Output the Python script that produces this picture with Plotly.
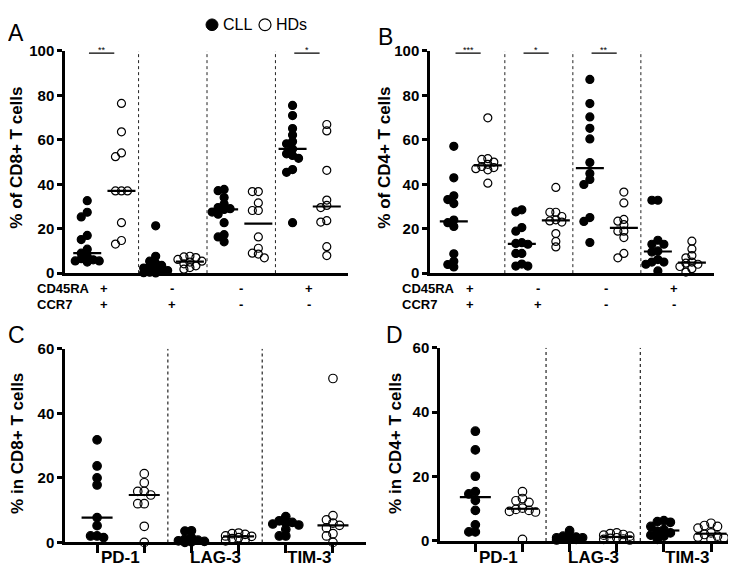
import math
import numpy as np
import plotly.graph_objects as go

# ------------------------------------------------------------------ data
subset_names = ["CD45RA+CCR7+", "CD45RA-CCR7+", "CD45RA-CCR7-", "CD45RA+CCR7-"]
cd45ra_signs = ["+", "-", "-", "+"]
ccr7_signs = ["+", "+", "-", "-"]
checkpoint_labels = ["PD-1", "LAG-3", "TIM-3"]
legend_labels = ["CLL", "HDs"]
ticks_ab = [0, 20, 40, 60, 80, 100]
ticks_cd = [0, 20, 40, 60]

# Panel A: % of CD8+ T cells
cd8_g1_cll = [32.6, 27.4, 25.3, 17.0, 15.1, 10.8, 9.0, 7.5, 6.5, 6.0, 5.5, 5.5, 5.0]
cd8_g1_hd = [76.4, 63.6, 54.1, 52.4, 37.0, 37.0, 37.0, 22.7, 14.7, 13.1]
cd8_g2_cll = [21.3, 7.6, 5.4, 4.5, 3.5, 3.0, 2.3, 1.8, 1.2, 0.8, 0.4, 0.2, 0.1]
cd8_g2_hd = [7.6, 7.3, 7.0, 6.2, 5.4, 5.0, 4.2, 3.3, 2.5, 1.8]
cd8_g3_cll = [37.7, 37.1, 34.0, 31.1, 29.5, 29.0, 28.7, 27.5, 26.5, 22.7, 17.3, 16.3, 14.1]
cd8_g3_hd = [36.7, 36.7, 31.6, 28.2, 28.2, 16.3, 11.2, 9.0, 8.6, 6.9]
cd8_g4_cll = [75.5, 70.9, 65.1, 62.2, 59.2, 58.2, 55.9, 53.7, 53.0, 51.7, 46.6, 45.4, 22.7]
cd8_g4_hd = [66.9, 64.0, 46.3, 32.9, 30.5, 29.5, 23.6, 23.0, 11.9, 7.9]
cd8_sig = ["**", "", "", "*"]

# Panel B: % of CD4+ T cells
cd4_g1_cll = [57.1, 42.9, 34.8, 33.1, 31.3, 23.9, 22.7, 21.0, 8.7, 5.4, 3.9, 2.8]
cd4_g1_hd = [69.9, 51.5, 51.2, 50.0, 49.0, 48.0, 47.5, 47.0, 46.5, 40.5]
cd4_g2_cll = [28.5, 27.6, 20.5, 18.9, 13.7, 13.4, 13.0, 8.9, 8.9, 4.1, 3.2, 3.2]
cd4_g2_hd = [38.6, 27.4, 27.4, 25.5, 24.0, 23.5, 23.0, 17.8, 14.3, 11.8]
cd4_g3_cll = [87.2, 76.3, 70.3, 65.2, 60.4, 49.8, 44.8, 42.2, 39.9, 25.0, 23.3, 13.8]
cd4_g3_hd = [36.5, 31.6, 24.2, 23.4, 21.8, 18.9, 18.9, 16.0, 8.9, 6.9]
cd4_g4_cll = [32.8, 32.8, 14.8, 13.0, 13.0, 10.0, 9.5, 6.1, 5.0, 5.0, 4.0, 1.0]
cd4_g4_hd = [14.4, 10.9, 7.9, 6.9, 5.0, 4.5, 4.0, 3.0, 2.0, 0.5]
cd4_sig = ["***", "*", "**", ""]

# Panel C: % in CD8+ T cells
cd8_pd1_cll = [31.8, 23.7, 20.0, 17.8, 7.7, 5.2, 2.0, 2.0, 1.5]
cd8_pd1_hd = [21.3, 18.5, 15.8, 15.8, 14.7, 12.0, 12.0, 5.0, 0.0]
cd8_lag3_cll = [3.6, 3.5, 1.5, 1.0, 0.7, 0.5, 0.3, 0.2, 0.0]
cd8_lag3_hd = [2.9, 2.7, 2.5, 2.0, 1.9, 1.5, 1.2, 0.8, 0.5]
cd8_tim3_cll = [8.0, 6.7, 6.2, 6.0, 5.7, 5.4, 4.0, 2.0, 2.0]
cd8_tim3_hd = [50.8, 8.3, 7.0, 6.0, 5.3, 4.5, 2.7, 2.0, 0.0]

# Panel D: % in CD4+ T cells
cd4_pd1_cll = [34.1, 28.3, 20.1, 15.3, 14.6, 12.6, 9.5, 5.0, 2.8, 2.8]
cd4_pd1_hd = [15.3, 13.2, 12.5, 12.0, 10.2, 9.8, 9.5, 9.2, 9.0, 0.5]
cd4_lag3_cll = [3.2, 1.5, 1.3, 1.2, 1.0, 1.0, 0.8, 0.6, 0.5, 0.3]
cd4_lag3_hd = [2.5, 2.3, 2.0, 1.8, 1.5, 1.0, 0.8, 0.6, 0.5, 0.3]
cd4_tim3_cll = [6.3, 6.0, 5.8, 4.5, 3.5, 3.0, 2.5, 1.8, 1.5, 0.5]
cd4_tim3_hd = [5.5, 4.8, 4.5, 4.0, 2.5, 2.0, 1.5, 1.2, 1.0, 0.5]

panel_groups = {
    1: [(cd8_g1_cll, cd8_g1_hd), (cd8_g2_cll, cd8_g2_hd), (cd8_g3_cll, cd8_g3_hd), (cd8_g4_cll, cd8_g4_hd)],
    2: [(cd4_g1_cll, cd4_g1_hd), (cd4_g2_cll, cd4_g2_hd), (cd4_g3_cll, cd4_g3_hd), (cd4_g4_cll, cd4_g4_hd)],
    3: [(cd8_pd1_cll, cd8_pd1_hd), (cd8_lag3_cll, cd8_lag3_hd), (cd8_tim3_cll, cd8_tim3_hd)],
    4: [(cd4_pd1_cll, cd4_pd1_hd), (cd4_lag3_cll, cd4_lag3_hd), (cd4_tim3_cll, cd4_tim3_hd)],
}
panel_sig = {1: cd8_sig, 2: cd4_sig}
panel_ticks = {1: ticks_ab, 2: ticks_ab, 3: ticks_cd, 4: ticks_cd}
y_titles = {1: "% of CD8+ T cells", 2: "% of CD4+ T cells", 3: "% in CD8+ T cells", 4: "% in CD4+ T cells"}
panel_letters = {1: "A", 2: "B", 3: "C", 4: "D"}

# ------------------------------------------------------------------ layout geometry (pixels)
W, H = 736, 572
FONT = "Liberation Sans, Arial, Helvetica, sans-serif"
geo = {
    1: dict(x0=57, x1=340, ybot=264, ytop=35, xr=(-0.65, 7.62), yr=(0, 100)),
    2: dict(x0=422, x1=706, ybot=264, ytop=35, xr=(-0.70, 7.65), yr=(0, 100)),
    3: dict(x0=57, x1=358, ybot=541.5, ytop=342, xr=(-0.68, 5.70), yr=(0, 60)),
    4: dict(x0=432, x1=736, ybot=540, ytop=341, xr=(-0.75, 5.70), yr=(0, 60)),
}
title_pos = {1: (9, 145), 2: (377, 145), 3: (10, 440), 4: (388, 440)}
letter_pos = {1: (8, 16), 2: (377, 21), 3: (8, 328), 4: (386, 328)}


def px_x(p):
    return p / W


def px_y(p):
    return 1 - p / H


def swarm_offsets(vals, ppx, ppy, step=6.0, mind=5.4):
    order = sorted(range(len(vals)), key=lambda i: -vals[i])
    placed = []
    off = [0.0] * len(vals)
    for i in order:
        y = vals[i] * ppy
        best, bestd = 0.0, -1.0
        for k in (0, -1, 1, -2, 2):
            x = k * step
            d = min((math.hypot(x - a, y - b) for a, b in placed), default=1e9)
            if d >= mind:
                best = x
                break
            if d > bestd:
                bestd, best = d, x
        placed.append((best, y))
        off[i] = best / ppx
    return off


fig = go.Figure()
shapes, annots = [], []

for p, g in geo.items():
    xa = "x" if p == 1 else f"x{p}"
    ya = "y" if p == 1 else f"y{p}"
    ppx = (g["x1"] - g["x0"]) / (g["xr"][1] - g["xr"][0])
    ppy = (g["ybot"] - g["ytop"]) / (g["yr"][1] - g["yr"][0])
    msize = 8 if p <= 2 else 8.5
    half = 14.0 / ppx if p <= 2 else 15.5 / ppx
    medians = []
    for gi, (cll, hd) in enumerate(panel_groups[p]):
        for si, vals in enumerate((cll, hd)):
            c = 2 * gi + si
            offs = swarm_offsets(vals, ppx, ppy, step=6.0 if p <= 2 else 6.5,
                                 mind=5.4 if p <= 2 else 6.0)
            xs = [c + o for o in offs]
            fig.add_trace(go.Scatter(
                x=xs, y=vals, xaxis=xa, yaxis=ya, mode="markers", cliponaxis=False,
                showlegend=False, hoverinfo="skip",
                marker=dict(symbol="circle" if si == 0 else "circle-open", size=msize,
                            color="black", line=dict(color="black", width=1.2)),
            ))
            medians.append((c, float(np.median(vals))))
    for c, m in medians:
        fig.add_trace(go.Scatter(
            x=[c - half, c + half], y=[m, m], xaxis=xa, yaxis=ya, mode="lines",
            cliponaxis=False, showlegend=False, hoverinfo="skip",
            line=dict(color="black", width=2.2),
        ))
    ngroups = len(panel_groups[p])
    # dotted separators
    for k in range(ngroups - 1):
        s = 2 * k + 1.5
        shapes.append(dict(type="line", xref=xa, yref=ya, x0=s, x1=s, y0=0, y1=g["yr"][1],
                           line=dict(color="#222", width=1.2 if p > 2 else 1, dash="dot")))
    # significance bars
    if p in panel_sig:
        for k, s in enumerate(panel_sig[p]):
            if not s:
                continue
            cx = 2 * k + 0.42
            shapes.append(dict(type="line", xref=xa, yref=ya, x0=cx - 0.37, x1=cx + 0.37,
                               y0=99, y1=99, line=dict(color="black", width=1.3)))
            annots.append(dict(x=cx, y=99, xref=xa, yref=ya, text=s, showarrow=False,
                               yanchor="bottom", yshift=-4,
                               font=dict(family=FONT, size=9, color="black")))
        # CD45RA / CCR7 rows
        for row, (lab, signs, ypx) in enumerate((("CD45RA", cd45ra_signs, 280),
                                                  ("CCR7", ccr7_signs, 296))):
            annots.append(dict(x=px_x(g["x0"] - 30), y=px_y(ypx), xref="paper", yref="paper",
                               text=f"<b>{lab}</b>", showarrow=False, xanchor="left",
                               yanchor="middle", font=dict(family=FONT, size=13, color="black")))
            for k, s in enumerate(signs):
                annots.append(dict(x=2 * k + 0.48, y=px_y(ypx), xref=xa, yref="paper",
                                   text=f"<b>{s}</b>", showarrow=False, yanchor="middle",
                                   font=dict(family=FONT, size=13, color="black")))
    else:
        for k, lab in enumerate(checkpoint_labels):
            annots.append(dict(x=2 * k + 0.5, y=px_y(557), xref=xa, yref="paper",
                               text=f"<b>{lab}</b>", showarrow=False, yanchor="middle",
                               font=dict(family=FONT, size=17, color="black")))
    # y title
    tx, ty = title_pos[p]
    annots.append(dict(x=px_x(tx), y=px_y(ty), xref="paper", yref="paper",
                       text=f"<b>{y_titles[p]}</b>", textangle=-90, showarrow=False,
                       xanchor="center", yanchor="middle",
                       font=dict(family=FONT, size=17, color="black")))
    lx, ly = letter_pos[p]
    annots.append(dict(x=px_x(lx), y=px_y(ly), xref="paper", yref="paper",
                       text=panel_letters[p], showarrow=False, xanchor="center", yanchor="middle",
                       font=dict(family=FONT, size=23, color="black")))

    axis_common = dict(showgrid=False, zeroline=False, showline=True, linecolor="black",
                       linewidth=2.5)
    xaxis = dict(axis_common, domain=[px_x(g["x0"]), px_x(g["x1"])], range=list(g["xr"]),
                 anchor=ya)
    if p <= 2:
        xaxis.update(showticklabels=False, ticks="")
    else:
        xaxis.update(tickvals=list(range(6)), ticktext=[""] * 6, ticks="outside",
                     ticklen=8, tickwidth=2.5, tickcolor="black")
    tv = panel_ticks[p]
    yaxis = dict(axis_common, domain=[px_y(g["ybot"]), px_y(g["ytop"])], range=list(g["yr"]),
                 anchor=xa, tickvals=tv, ticktext=[f"<b>{t}</b>" for t in tv],
                 ticks="outside", ticklen=5, tickwidth=2.5, tickcolor="black",
                 tickfont=dict(family=FONT, size=15, color="black"))
    key = "" if p == 1 else str(p)
    fig.layout["xaxis" + key] = xaxis
    fig.layout["yaxis" + key] = yaxis

# legend (top)
shapes.append(dict(type="circle", xref="paper", yref="paper",
                   x0=px_x(198), x1=px_x(210), y0=px_y(14), y1=px_y(2),
                   fillcolor="black", line=dict(color="black", width=1)))
shapes.append(dict(type="circle", xref="paper", yref="paper",
                   x0=px_x(251), x1=px_x(263), y0=px_y(14), y1=px_y(2),
                   fillcolor="rgba(0,0,0,0)", line=dict(color="black", width=1.2)))
for lab, xpx in zip(legend_labels, (213, 266)):
    annots.append(dict(x=px_x(xpx), y=px_y(8), xref="paper", yref="paper", text=lab,
                       showarrow=False, xanchor="left", yanchor="middle",
                       font=dict(family=FONT, size=16, color="black")))

fig.update_layout(width=W, height=H, autosize=False, margin=dict(l=0, r=0, t=0, b=0),
                  paper_bgcolor="white", plot_bgcolor="white", showlegend=False,
                  shapes=shapes, annotations=annots, font=dict(family=FONT, color="black"))
fig.write_html("out.html")
